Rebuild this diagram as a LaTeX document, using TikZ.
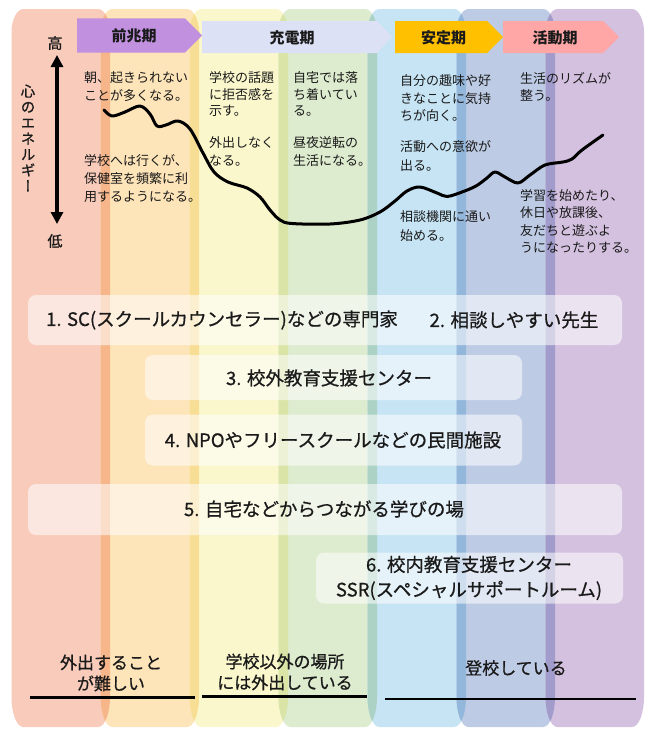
\documentclass[tikz,border=0pt]{standalone}
\usepackage{fontspec}
\setmainfont{Noto Sans CJK JP}
\newfontfamily\vertfont{Noto Sans CJK JP}[RawFeature=+vert, FakeBold=0.8]
\newfontfamily\medfont{Noto Sans CJK JP}[FakeBold=0.7]
\usetikzlibrary{arrows.meta}

\definecolor{c0}{HTML}{F8CBBB}
\definecolor{c1}{HTML}{FDE4B9}
\definecolor{c2}{HTML}{FAF7CD}
\definecolor{c3}{HTML}{DDEBCE}
\definecolor{c4}{HTML}{C6E4F4}
\definecolor{c5}{HTML}{BDCBE5}
\definecolor{c6}{HTML}{D4C1DF}
\definecolor{o0}{HTML}{F6B68A}
\definecolor{o1}{HTML}{F8DD95}
\definecolor{o2}{HTML}{D9E4A6}
\definecolor{o3}{HTML}{ACD2C5}
\definecolor{o4}{HTML}{93B6DB}
\definecolor{o5}{HTML}{A19CCB}
\definecolor{hpurple}{HTML}{C191E0}
\definecolor{hlav}{HTML}{DCE1F5}
\definecolor{hgold}{HTML}{FFC000}
\definecolor{hpink}{HTML}{FFA6A6}
\definecolor{ink}{HTML}{1A1A1A}

% column outline: #1 = left x, #2 = right x
\newcommand\colpath[2]{(#1,31) .. controls (#1,21) and (#1+5,9) .. (#1+12,9) -- (#2-12,9) .. controls (#2-5,9) and (#2,21) .. (#2,31) -- (#2,697) .. controls (#2,713) and (#2-5,727) .. (#2-12,727) -- (#1+12,727) .. controls (#1+5,727) and (#1,713) .. (#1,697) -- cycle}

\tikzset{
  smalltxt/.style={anchor=north west, align=left, inner sep=0pt, text=ink, font=\fontsize{13}{17.5}\selectfont},
  boxtxt/.style={inner sep=0pt, text=ink, align=center, font=\medfont\fontsize{18.5}{25}\selectfont},
  labeltxt/.style={inner sep=0pt, text=ink, align=center, font=\medfont\fontsize{17}{21}\selectfont},
  headtxt/.style={inner sep=0pt, text=ink, font=\fontsize{15}{18}\selectfont\bfseries},
  whitebox/.style={fill=white, fill opacity=0.55, text opacity=1, rounded corners=8pt, inner sep=0pt},
  underline/.style={line width=2.5pt, draw=black},
  energy/.style={line width=3pt, draw=black, line cap=round, line join=round},
  axisarrow/.style={line width=3.5pt, {Triangle[width=12pt,length=12pt]}-{Triangle[width=12pt,length=12pt]}}
}

\begin{document}
\begin{tikzpicture}[x=1pt, y=-1pt]
\useasboundingbox (0,0) rectangle (657,739);
\fill[white] (0,0) rectangle (657,739);

% columns
\fill[c0] \colpath{11.5}{110};
\fill[c1] \colpath{100.5}{199};
\fill[c2] \colpath{189.5}{288};
\fill[c3] \colpath{278.5}{377};
\fill[c4] \colpath{367.5}{466};
\fill[c5] \colpath{456.5}{555};
\fill[c6] \colpath{545.5}{644};
% overlaps
\begin{scope}\clip \colpath{11.5}{110}; \fill[o0] \colpath{100.5}{199};\end{scope}
\begin{scope}\clip \colpath{100.5}{199}; \fill[o1] \colpath{189.5}{288};\end{scope}
\begin{scope}\clip \colpath{189.5}{288}; \fill[o2] \colpath{278.5}{377};\end{scope}
\begin{scope}\clip \colpath{278.5}{377}; \fill[o3] \colpath{367.5}{466};\end{scope}
\begin{scope}\clip \colpath{367.5}{466}; \fill[o4] \colpath{456.5}{555};\end{scope}
\begin{scope}\clip \colpath{456.5}{555}; \fill[o5] \colpath{545.5}{644};\end{scope}

% header arrows
\fill[hpurple] (77,18.3) -- (185,18.3) -- (202,35.5) -- (185,52.7) -- (77,52.7) -- cycle;
\fill[hlav] (202,21) -- (377,21) -- (392,37) -- (377,53) -- (202,53) -- cycle;
\fill[hgold] (395,21) -- (487,21) -- (503,37) -- (487,53) -- (395,53) -- cycle;
\fill[hpink] (503,21) -- (603,21) -- (619,37) -- (603,53) -- (503,53) -- cycle;
\node[headtxt] (h1) at (134,35.5) {前兆期};
\node[headtxt] (h2) at (292,37.5) {充電期};
\node[headtxt] (h3) at (443.5,37.5) {安定期};
\node[headtxt] (h4) at (555,37.5) {活動期};

% axis
\node[inner sep=0pt, text=ink, font=\medfont\fontsize{15}{18}\selectfont] (hi) at (55,43) {高};
\node[inner sep=0pt, text=ink, font=\medfont\fontsize{15}{18}\selectfont] (lo) at (55,241) {低};
\coordinate (atop) at (57,55);
\coordinate (abot) at (57,224);
\draw[axisarrow] (atop) -- (abot);
\node[inner sep=0pt, text=ink, align=center, font=\vertfont\fontsize{14.5}{15.8}\selectfont] (ene) at (28,138) {心\\の\\エ\\ネ\\ル\\ギ\\ー};

% energy curve
\draw[energy] plot[smooth, tension=0.55] coordinates {
(104,110) (112,116) (125,112) (140,106) (150,114) (157,126) (166,125) (178,121) (190,129)
(203,153) (214,172) (228,182) (247,188) (260,197) (270,210) (280,220) (292,223.5)
(330,224) (360,220) (380,212) (395,201) (407,191) (420,187) (437,193) (447,196.5)
(462,192) (476,186) (487,178) (495,172) (505,177) (518,183) (530,175) (545,165)
(563,162) (572,159) (582,150) (603,135)};

% descriptions
\node[smalltxt] (t1) at (84,71.5) {朝、起きられない\\ことが多くなる。};
\node[smalltxt, font=\fontsize{13}{18}\selectfont] (t2) at (84,154.5) {学校へは行くが、\\保健室を頻繁に利\\用するようになる。};
\node[smalltxt, font=\fontsize{13}{16.5}\selectfont] (t3) at (209,71.5) {学校の話題\\に拒否感を\\示す。};
\node[smalltxt, font=\fontsize{13}{18}\selectfont] (t4) at (209,136.5) {外出しなく\\なる。};
\node[smalltxt, font=\fontsize{13}{16.5}\selectfont] (t5) at (293,71.5) {自宅では落\\ち着いてい\\る。};
\node[smalltxt, font=\fontsize{13}{18}\selectfont] (t6) at (293,136.5) {昼夜逆転の\\生活になる。};
\node[smalltxt] (t7) at (400,74.7) {自分の趣味や好\\きなことに気持\\ちが向く。};
\node[smalltxt, font=\fontsize{13}{18.3}\selectfont] (t8) at (400,140.7) {活動への意欲が\\出る。};
\node[smalltxt, font=\fontsize{13}{18.3}\selectfont] (t9) at (400,210.7) {相談機関に通い\\始める。};
\node[smalltxt, font=\fontsize{13}{16.7}\selectfont] (t10) at (520,72.3) {生活のリズムが\\整う。};
\node[smalltxt] (t11) at (520,189) {学習を始めたり、\\休日や放課後、\\友だちと遊ぶよ\\うになったりする。};

% support boxes
\node[whitebox, minimum width=594, minimum height=50] (b1) at (325,320) {};
\node[boxtxt] (b1a) at (222,320) {1. SC(スクールカウンセラー)などの専門家};
\node[boxtxt] (b1b) at (514,320) {2. 相談しやすい先生};
\node[whitebox, minimum width=377, minimum height=45] (b3) at (333.5,377.5) {};
\node[boxtxt] (b3t) at (329,378) {3. 校外教育支援センター};
\node[whitebox, minimum width=377, minimum height=51] (b4) at (333.5,440) {};
\node[boxtxt] (b4t) at (333,440) {4. NPOやフリースクールなどの民間施設};
\node[whitebox, minimum width=594, minimum height=51] (b5) at (325,509.5) {};
\node[boxtxt] (b5t) at (324,509) {5. 自宅などからつながる学びの場};
\node[whitebox, minimum width=307, minimum height=51] (b6) at (469.5,578) {};
\node[boxtxt] (b6t) at (469,578) {6. 校内教育支援センター\\SSR(スペシャルサポートルーム)};

% bottom labels
\node[labeltxt] (l1) at (111,673) {外出すること\\が難しい};
\node[labeltxt] (l2) at (285,672) {学校以外の場所\\には外出している};
\node[labeltxt] (l3) at (516,668) {登校している};
\coordinate (u1a) at (30,697.5);   \coordinate (u1b) at (194.5,697.5);
\coordinate (u2a) at (202,696.7);  \coordinate (u2b) at (367,696.7);
\coordinate (u3a) at (385,699);    \coordinate (u3b) at (636,699);
\draw[underline] (u1a) -- (u1b);
\draw[underline] (u2a) -- (u2b);
\draw[underline] (u3a) -- (u3b);
\end{tikzpicture}
\end{document}
